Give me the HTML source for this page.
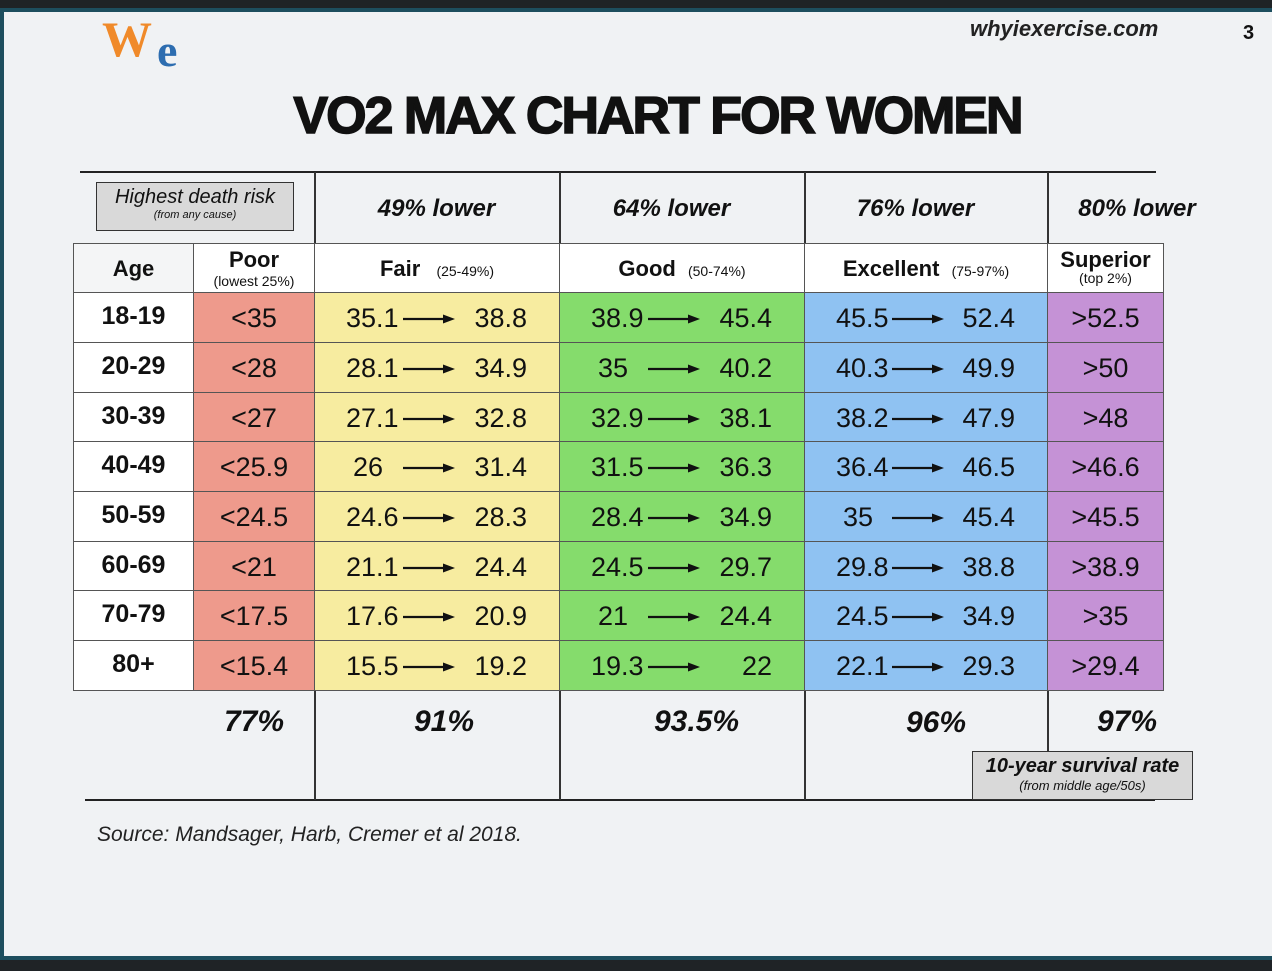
<!DOCTYPE html>
<html><head><meta charset="utf-8"><style>
*{margin:0;padding:0;box-sizing:border-box}
body{width:1272px;height:971px;background:#1f2326;position:relative;overflow:hidden;font-family:"Liberation Sans",Arial,sans-serif;color:#111}
#frame{position:absolute;left:0;top:8px;width:1272px;height:952px;background:#f0f2f4;border:4px solid #1d4e5e;border-right:none}
.a{position:absolute}
.c{position:absolute;text-align:center}
.hl{position:absolute;height:2px;background:#222}
.vl{position:absolute;width:1.5px;background:#333}
.cell{position:absolute;border:1px solid #555;font-size:27px;line-height:50px;text-align:center}
.rng span{position:absolute;top:0}
.rng svg{position:absolute;top:21px}
</style></head><body>
<div id="frame"></div>
<div class="a" style="left:102px;top:10px;font-family:'Liberation Serif',serif;font-weight:bold;font-size:50px;color:#f08a2a">W</div>
<div class="a" style="left:157px;top:24px;font-family:'Liberation Serif',serif;font-weight:bold;font-size:46px;color:#2d6db0">e</div>
<div class="a" style="left:970px;top:16px;font-size:22px;font-weight:bold;font-style:italic;color:#222">whyiexercise.com</div>
<div class="a" style="left:1243px;top:22px;font-size:20px;font-weight:bold">3</div>
<div class="c" style="left:290px;width:735px;top:86px;font-size:52px;font-weight:900;letter-spacing:-2px;white-space:nowrap;-webkit-text-stroke:1.5px #111">VO2 MAX CHART FOR WOMEN</div>

<div class="hl" style="left:80px;top:171px;width:1076px"></div>
<div class="hl" style="left:85px;top:799px;width:1070px"></div>
<div class="vl" style="left:314px;top:172px;height:628px"></div>
<div class="vl" style="left:559px;top:172px;height:628px"></div>
<div class="vl" style="left:804px;top:172px;height:628px"></div>
<div class="vl" style="left:1047px;top:172px;height:628px"></div>

<div class="a" style="left:96px;top:182px;width:198px;height:49px;background:#d9d9d9;border:1.5px solid #333;text-align:center;font-style:italic">
<div style="font-size:20px;margin-top:3px;font-weight:500">Highest death risk</div><div style="font-size:11px">(from any cause)</div></div>
<div class="c" style="left:314px;width:245px;top:195px;font-size:24px;font-style:italic;font-weight:bold">49% lower</div>
<div class="c" style="left:559px;width:225px;top:195px;font-size:24px;font-style:italic;font-weight:bold">64% lower</div>
<div class="c" style="left:804px;width:223px;top:195px;font-size:24px;font-style:italic;font-weight:bold">76% lower</div>
<div class="c" style="left:1047px;width:180px;top:195px;font-size:24px;font-style:italic;font-weight:bold">80% lower</div>

<div class="cell" style="left:73px;top:243px;width:121px;height:50px;background:#f4f5f6;font-size:22px;font-weight:bold">Age</div>
<div class="cell" style="left:193px;top:243px;width:122px;height:50px;background:#fff;line-height:normal;font-size:22px;padding-top:3px;font-weight:bold">Poor<div style="font-size:14px;font-weight:normal">(lowest 25%)</div></div>
<div class="cell" style="left:314px;top:243px;width:246px;height:50px;background:#fff;font-size:22px;font-weight:bold">Fair <span style="font-size:14px;margin-left:10px;font-weight:normal">(25-49%)</span></div>
<div class="cell" style="left:559px;top:243px;width:246px;height:50px;background:#fff;font-size:22px;font-weight:bold">Good <span style="font-size:14px;margin-left:6px;font-weight:normal">(50-74%)</span></div>
<div class="cell" style="left:804px;top:243px;width:244px;height:50px;background:#fff;font-size:22px;font-weight:bold">Excellent <span style="font-size:14px;margin-left:6px;font-weight:normal">(75-97%)</span></div>
<div class="cell" style="left:1047px;top:243px;width:117px;height:50px;background:#fff;line-height:normal;font-size:22px;padding-top:3px;font-weight:bold">Superior<div style="font-size:14px;margin-top:-3px;font-weight:normal">(top 2%)</div></div>

<div id="rows"></div>

<div class="c" style="left:193px;width:122px;top:705px;font-size:30px;font-style:italic;font-weight:bold">77%</div>
<div class="c" style="left:314px;width:260px;top:705px;font-size:30px;font-style:italic;font-weight:bold">91%</div>
<div class="c" style="left:559px;width:275px;top:705px;font-size:30px;font-style:italic;font-weight:bold">93.5%</div>
<div class="c" style="left:804px;width:264px;top:706px;font-size:30px;font-style:italic;font-weight:bold">96%</div>
<div class="c" style="left:1047px;width:160px;top:705px;font-size:30px;font-style:italic;font-weight:bold">97%</div>
<div class="a" style="left:972px;top:751px;width:221px;height:49px;background:#d9d9d9;border:1.5px solid #333;text-align:center;font-style:italic">
<div style="font-size:20px;margin-top:3px;font-weight:bold">10-year survival rate</div><div style="font-size:13px">(from middle age/50s)</div></div>
<div class="a" style="left:97px;top:823px;font-size:21px;font-style:italic;color:#222">Source:  Mandsager, Harb, Cremer et al 2018.</div>

<script>
var d=[["18-19","<35","35.1","38.8","38.9","45.4","45.5","52.4",">52.5"],
["20-29","<28","28.1","34.9","35","40.2","40.3","49.9",">50"],
["30-39","<27","27.1","32.8","32.9","38.1","38.2","47.9",">48"],
["40-49","<25.9","26","31.4","31.5","36.3","36.4","46.5",">46.6"],
["50-59","<24.5","24.6","28.3","28.4","34.9","35","45.4",">45.5"],
["60-69","<21","21.1","24.4","24.5","29.7","29.8","38.8",">38.9"],
["70-79","<17.5","17.6","20.9","21","24.4","24.5","34.9",">35"],
["80+","<15.4","15.5","19.2","19.3","22","22.1","29.3",">29.4"]];
var tops=[292,342,392,441,491,541,590,640,690],h="";
var arr='<svg width="52" height="10" viewBox="0 0 52 10"><line x1="0" y1="5" x2="42" y2="5" stroke="#111" stroke-width="2.2"/><polygon points="40,0.5 52,5 40,9.5" fill="#111"/></svg>';
function rng(x,w,bg,a,b,t,hh){return '<div class="cell rng" style="left:'+x+'px;top:'+t+'px;width:'+w+'px;height:'+hh+'px;background:'+bg+'">'+
'<span style="left:'+(a.length<3?38:31)+'px">'+a+'</span><span style="left:'+(w/2-35)+'px;top:0">'+arr.replace('<svg','<svg style="position:absolute;top:21px"')+'</span><span style="right:32px">'+b+'</span></div>';}
for(var i=0;i<8;i++){var r=d[i],t=tops[i],hh=tops[i+1]-t+1;
h+='<div class="cell" style="left:73px;top:'+t+'px;width:121px;height:'+hh+'px;background:#fff;font-weight:bold;font-size:25px;line-height:'+(hh-4)+'px">'+r[0]+'</div>';
h+='<div class="cell" style="left:193px;top:'+t+'px;width:122px;height:'+hh+'px;background:#ee9a8c">'+r[1].replace("<","&lt;")+'</div>';
h+=rng(314,246,"#f7eca0",r[2],r[3],t,hh);
h+=rng(559,246,"#85dc6c",r[4],r[5],t,hh);
h+=rng(804,244,"#8fc2f2",r[6],r[7],t,hh);
h+='<div class="cell" style="left:1047px;top:'+t+'px;width:117px;height:'+hh+'px;background:#c592d6">'+r[8].replace(">","&gt;")+'</div>';}
document.getElementById("rows").innerHTML=h;
</script>
</body></html>
